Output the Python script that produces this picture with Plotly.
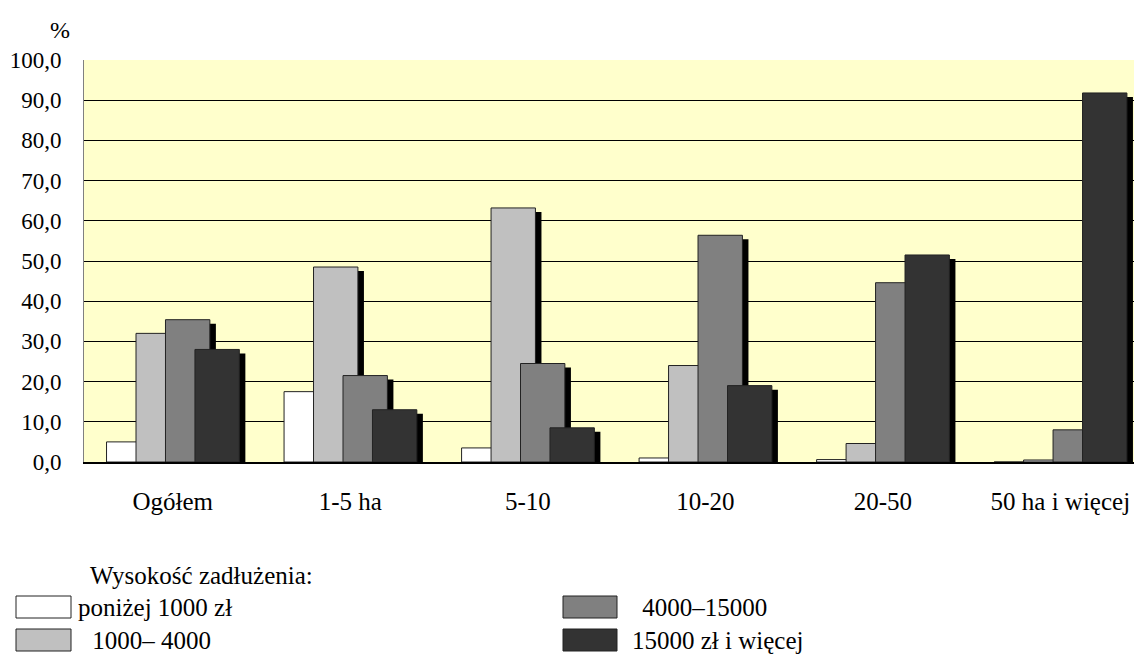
import plotly.graph_objects as go

categories = ["Ogółem", "1-5 ha", "5-10", "10-20", "20-50", "50 ha i więcej"]
series_names = ["poniżej 1000 zł", "1000– 4000", "4000–15000", "15000 zł i więcej"]
below_1000 = [5.0, 17.5, 3.5, 1.0, 0.6, 0.0]
from_1000_to_4000 = [32.0, 48.5, 63.2, 24.0, 4.6, 0.5]
from_4000_to_15000 = [35.4, 21.5, 24.5, 56.4, 44.6, 8.0]
above_15000 = [28.0, 13.0, 8.5, 19.0, 51.5, 91.8]
y_tick_values = [0, 10, 20, 30, 40, 50, 60, 70, 80, 90, 100]
legend_title = "Wysokość zadłużenia:"
y_unit = "%"

series_values = [below_1000, from_1000_to_4000, from_4000_to_15000, above_15000]
colors = ["#FFFFFF", "#C0C0C0", "#808080", "#333333"]
offsets = [-0.373, -0.207, -0.041, 0.125]
bar_w = 0.25
shadow_dx = 0.034
shadow_dy = 1.0

FONT = "Liberation Serif, Times New Roman, serif"
# the page body has an 8px margin; size the figure so the plot area lands at
# screen x 84..1142, y 60..462
W, H = 1134, 647
ML, MR, MT, MB = 76, 0, 52, 193
PLOT_L, PLOT_R, PLOT_T, PLOT_B = 84, 1142, 60, 462

fig = go.Figure()
for i, vals in enumerate(series_values):
    fig.add_trace(go.Bar(
        x=categories, y=[max(v - shadow_dy, 0) for v in vals],
        offset=offsets[i] + shadow_dx, width=bar_w,
        marker=dict(color="#000000", line=dict(width=0)),
        showlegend=False, hoverinfo="skip"))
    fig.add_trace(go.Bar(
        x=categories, y=vals, name=series_names[i],
        offset=offsets[i], width=bar_w,
        marker=dict(color=colors[i], line=dict(color="#222222", width=1)),
        showlegend=False))

fig.update_layout(
    width=W, height=H,
    margin=dict(l=ML, r=MR, t=MT, b=MB, pad=0),
    barmode="overlay",
    paper_bgcolor="#FFFFFF",
    plot_bgcolor="#FFFFCC",
    separators=", ",
    font=dict(family=FONT, size=24, color="#000000"),
    showlegend=False,
)
fig.update_xaxes(
    type="category", range=[-0.5, 5.46],
    showgrid=False, showline=True, linecolor="#000000", linewidth=1.5,
    ticks="outside", ticklen=16, tickcolor="rgba(0,0,0,0)",
    tickfont=dict(family=FONT, size=25, color="#000000"),
)
fig.update_yaxes(
    range=[0, 100], tickvals=y_tick_values, tickformat=".1f",
    showgrid=True, gridcolor="#000000", gridwidth=1,
    showline=True, linecolor="#808080", linewidth=1,
    zeroline=False,
    ticks="outside", ticklen=17, tickcolor="rgba(0,0,0,0)",
    tickfont=dict(family=FONT, size=23, color="#000000"),
)

def px_x(sx):
    return (sx - PLOT_L) / (PLOT_R - PLOT_L)

def px_y(sy):
    return (PLOT_B - sy) / (PLOT_B - PLOT_T)

fig.add_annotation(x=px_x(60), y=px_y(30), xref="paper", yref="paper",
                   text=y_unit, showarrow=False, font=dict(family=FONT, size=24),
                   xanchor="center", yanchor="middle")
fig.add_annotation(x=px_x(88), y=px_y(575), xref="paper", yref="paper",
                   text=legend_title, showarrow=False, font=dict(family=FONT, size=25),
                   xanchor="left", yanchor="middle")

legend_items = [
    # (box x0, box x1, row centre y, text x, text)
    (16, 71, 607, 76, series_names[0]),
    (16, 71, 640, 84, " " + series_names[1]),
    (563, 617, 607, 634, " " + series_names[2]),
    (563, 617, 640, 630, series_names[3]),
]
for idx, (x0, x1, yc, tx, label) in enumerate(legend_items):
    fig.add_shape(type="rect", xref="paper", yref="paper",
                  x0=px_x(x0), x1=px_x(x1), y0=px_y(yc + 11), y1=px_y(yc - 11),
                  fillcolor=colors[idx], line=dict(color="#222222", width=1))
    fig.add_annotation(x=px_x(tx), y=px_y(yc), xref="paper", yref="paper",
                       text=label, showarrow=False, font=dict(family=FONT, size=25),
                       xanchor="left", yanchor="middle")

fig.write_html("out.html")
